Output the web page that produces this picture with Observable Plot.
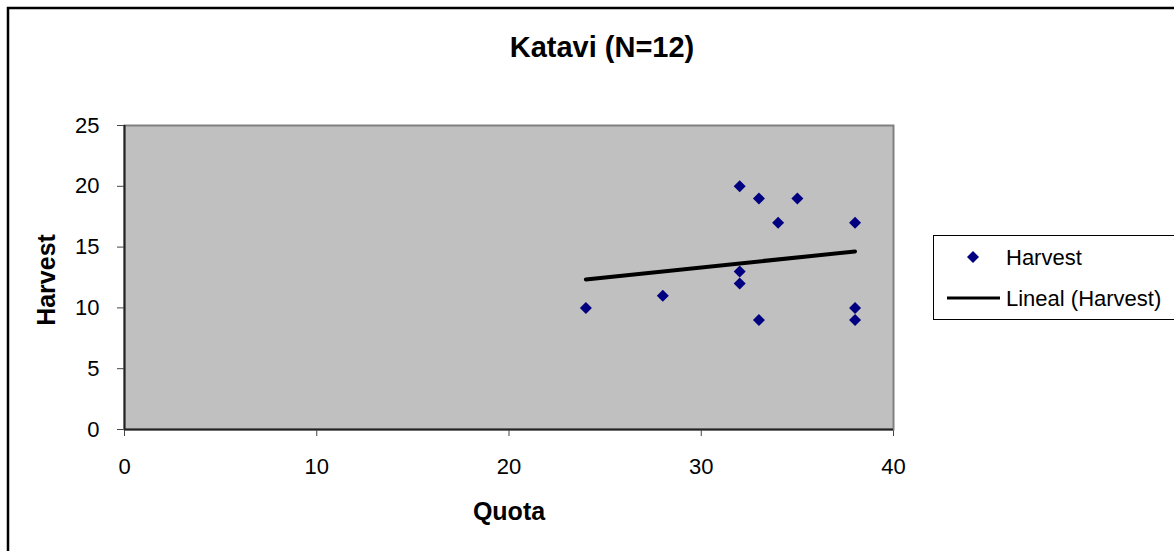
<!DOCTYPE html>
<html>
<head>
<meta charset="utf-8">
<script src="https://cdn.jsdelivr.net/npm/d3@7"></script>
<script src="https://cdn.jsdelivr.net/npm/@observablehq/plot@0.6"></script>
<style>
  html, body { margin: 0; padding: 0; background: #fff; overflow: hidden; }
  #chart svg { display: block; }
</style>
</head>
<body>
<div id="chart"></div>
<script>
const title = "Katavi (N=12)";
const xLabel = "Quota";
const yLabel = "Harvest";
const seriesName = "Harvest";
const trendName = "Lineal (Harvest)";
const quota   = [24, 28, 32, 32, 32, 33, 33, 34, 35, 38, 38, 38];
const harvest = [10, 11, 20, 13, 12, 19,  9, 17, 19, 17, 10,  9];
const xTicks = [0, 10, 20, 30, 40];
const yTicks = [0, 5, 10, 15, 20, 25];

const data = quota.map((q, i) => ({quota: q, harvest: harvest[i]}));
const font = "'Liberation Sans', Arial, sans-serif";

const svg = Plot.plot({
  width: 1174,
  height: 551,
  marginLeft: 124,
  marginRight: 281,
  marginTop: 125,
  marginBottom: 122,
  style: {fontFamily: font, fontSize: "22px", color: "#000", background: "#fff"},
  x: {domain: [0, 40], ticks: xTicks, tickSize: 7, tickPadding: 22, label: null},
  y: {domain: [0, 25], ticks: yTicks, tickSize: 7, tickPadding: 18, label: null},
  marks: [
    Plot.frame({fill: "#c0c0c0", stroke: "#808080", strokeWidth: 2}),
    Plot.ruleY([0], {stroke: "#222", strokeWidth: 2}),
    Plot.ruleX([0], {stroke: "#222", strokeWidth: 2}),
    Plot.linearRegressionY(data, {x: "quota", y: "harvest", stroke: "#000", strokeWidth: 4, ci: 0}),
    Plot.dot(data, {x: "quota", y: "harvest", symbol: "diamond2", r: 5.4, fill: "#000080", stroke: "none"})
  ]
});
document.getElementById("chart").appendChild(svg);

const s = d3.select(svg);
s.selectAll("g[aria-label='x-axis tick'], g[aria-label='y-axis tick']").attr("stroke", "#444");

// outer border
s.append("rect").attr("x", 8).attr("y", 8).attr("width", 1200).attr("height", 600)
  .attr("fill", "none").attr("stroke", "#000").attr("stroke-width", 2.5);

// title
s.append("text").attr("x", 602).attr("y", 47).attr("text-anchor", "middle").attr("dominant-baseline", "central")
  .attr("font-family", font).attr("font-weight", "bold").attr("font-size", 29).text(title);

// axis titles
s.append("text").attr("x", 509).attr("y", 511).attr("text-anchor", "middle").attr("dominant-baseline", "central")
  .attr("font-family", font).attr("font-weight", "bold").attr("font-size", 25).text(xLabel);
s.append("text").attr("transform", "translate(46,280) rotate(-90)").attr("text-anchor", "middle").attr("dominant-baseline", "central")
  .attr("font-family", font).attr("font-weight", "bold").attr("font-size", 25).text(yLabel);

// legend
const lg = s.append("g").attr("text-anchor", "start");
lg.append("rect").attr("x", 933.5).attr("y", 235.5).attr("width", 300).attr("height", 84)
  .attr("fill", "#fff").attr("stroke", "#000").attr("stroke-width", 1);
lg.append("path").attr("d", d3.symbol(d3.symbolDiamond2, Math.PI * 5.4 * 5.4)())
  .attr("transform", "translate(973,257)").attr("fill", "#000080");
lg.append("text").attr("x", 1006).attr("y", 257).attr("text-anchor", "start").attr("dominant-baseline", "central")
  .attr("font-family", font).attr("font-size", 22).text(seriesName);
lg.append("line").attr("x1", 947).attr("x2", 1000).attr("y1", 298).attr("y2", 298)
  .attr("stroke", "#000").attr("stroke-width", 3);
lg.append("text").attr("x", 1006).attr("y", 298).attr("text-anchor", "start").attr("dominant-baseline", "central")
  .attr("font-family", font).attr("font-size", 22).text(trendName);
</script>
</body>
</html>
